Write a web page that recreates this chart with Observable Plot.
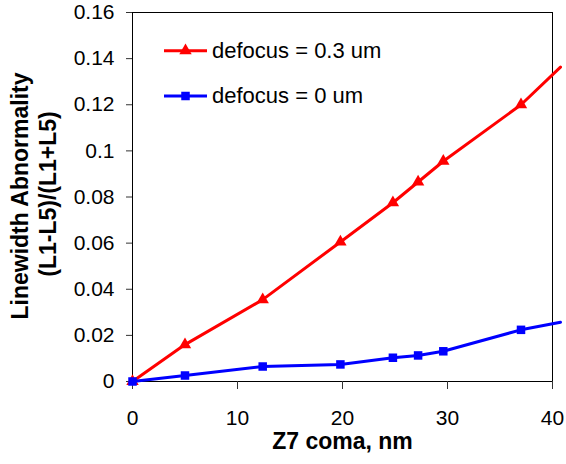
<!DOCTYPE html>
<html>
<head>
<meta charset="utf-8">
<script src="https://cdn.jsdelivr.net/npm/d3@7"></script>
<script src="https://cdn.jsdelivr.net/npm/@observablehq/plot@0.6"></script>
<style>
  html, body { margin: 0; padding: 0; background: #fff; }
  #wrap { position: relative; width: 566px; height: 464px; font-family: "Liberation Sans", Arial, sans-serif; }
  #legend { position: absolute; left: 0; top: 0; pointer-events: none; }
</style>
</head>
<body>
<div id="wrap"></div>
<script>
// Z7 coma (nm); the last value is where the lines leave the picture
const coma = [0, 5, 12.4, 19.8, 24.8, 27.2, 29.6, 37, 40.76];
// Linewidth abnormality, defocus = 0.3 um
const defocus03 = [0, 0.016, 0.0355, 0.0605, 0.0775, 0.0865, 0.0955, 0.12, 0.1363];
// Linewidth abnormality, defocus = 0 um
const defocus0 = [0, 0.0026, 0.0065, 0.0074, 0.0103, 0.0113, 0.0131, 0.0224, 0.0257];

const seriesNames = ["defocus = 0.3 um", "defocus = 0 um"];
const seriesColors = ["#ff0000", "#0000ff"];
const seriesSymbols = ["triangle", "square"];
const xTicks = [0, 10, 20, 30, 40];
const yTicks = [0, 0.02, 0.04, 0.06, 0.08, 0.1, 0.12, 0.14, 0.16];
const xTitle = "Z7 coma, nm";
const yTitle1 = "Linewidth Abnormality";
const yTitle2 = "(L1-L5)/(L1+L5)";

const red = coma.map((x, i) => ({x, y: defocus03[i]}));
const blue = coma.map((x, i) => ({x, y: defocus0[i]}));
const inFrame = d => d.x <= 40;

const font = "Liberation Sans, Arial, sans-serif";

const chart = Plot.plot({
  width: 566,
  height: 464,
  marginLeft: 132,
  marginRight: 14,
  marginTop: 12,
  marginBottom: 83,
  style: {fontFamily: font, background: "#fff", overflow: "hidden"},
  x: {domain: [0, 40]},
  y: {domain: [0, 0.16]},
  marks: [
    Plot.frame({stroke: "#000", strokeWidth: 1}),
    Plot.axisX({ticks: xTicks, tickSize: 8, tickPadding: 21, fontSize: 21, stroke: "#333", fill: "#000", label: null, tickFormat: d => String(d)}),
    Plot.axisY({ticks: yTicks, tickSize: 6, tickPadding: 12, fontSize: 21, stroke: "#333", fill: "#000", label: null, tickFormat: d => String(+d.toFixed(2))}),
    Plot.line(red, {x: "x", y: "y", stroke: seriesColors[0], strokeWidth: 3}),
    Plot.dot(red, {x: "x", y: "y", filter: inFrame, symbol: seriesSymbols[0], r: 4.6, fill: seriesColors[0], stroke: "none"}),
    Plot.line(blue, {x: "x", y: "y", stroke: seriesColors[1], strokeWidth: 3}),
    Plot.dot(blue, {x: "x", y: "y", filter: inFrame, symbol: seriesSymbols[1], r: 4.8, fill: seriesColors[1], stroke: "none"}),
    Plot.text([xTitle], {frameAnchor: "bottom", textAnchor: "middle", dy: 67, fontSize: 23, fontWeight: "bold", fill: "#000"}),
    Plot.text([yTitle1], {frameAnchor: "left", textAnchor: "middle", rotate: -90, dx: -112, dy: -1, fontSize: 23, fontWeight: "bold", fill: "#000"}),
    Plot.text([yTitle2], {frameAnchor: "left", textAnchor: "middle", rotate: -90, dx: -84, dy: -3, fontSize: 23, fontWeight: "bold", fill: "#000"})
  ]
});

const wrap = document.getElementById("wrap");
wrap.appendChild(chart);

// Legend overlay (inside plot area, top-left)
const legend = d3.select(wrap).append("svg")
  .attr("id", "legend")
  .attr("width", 566).attr("height", 130)
  .style("font-family", font);
const rows = [50.7, 96];
seriesNames.forEach((name, i) => {
  const g = legend.append("g").attr("transform", `translate(0,${rows[i]})`);
  g.append("line").attr("x1", 164).attr("x2", 207).attr("y1", 0).attr("y2", 0)
    .attr("stroke", seriesColors[i]).attr("stroke-width", 3);
  const sym = i === 0 ? d3.symbolTriangle : d3.symbolSquare;
  const size = i === 0 ? Math.PI * 4.6 * 4.6 : Math.PI * 4.8 * 4.8;
  g.append("path").attr("transform", "translate(185.5,0)")
    .attr("d", d3.symbol(sym, size)()).attr("fill", seriesColors[i]);
  g.append("text").attr("x", 212).attr("y", 0).attr("dy", "0.32em")
    .attr("font-size", 22).attr("fill", "#000").text(name);
});
</script>
</body>
</html>
